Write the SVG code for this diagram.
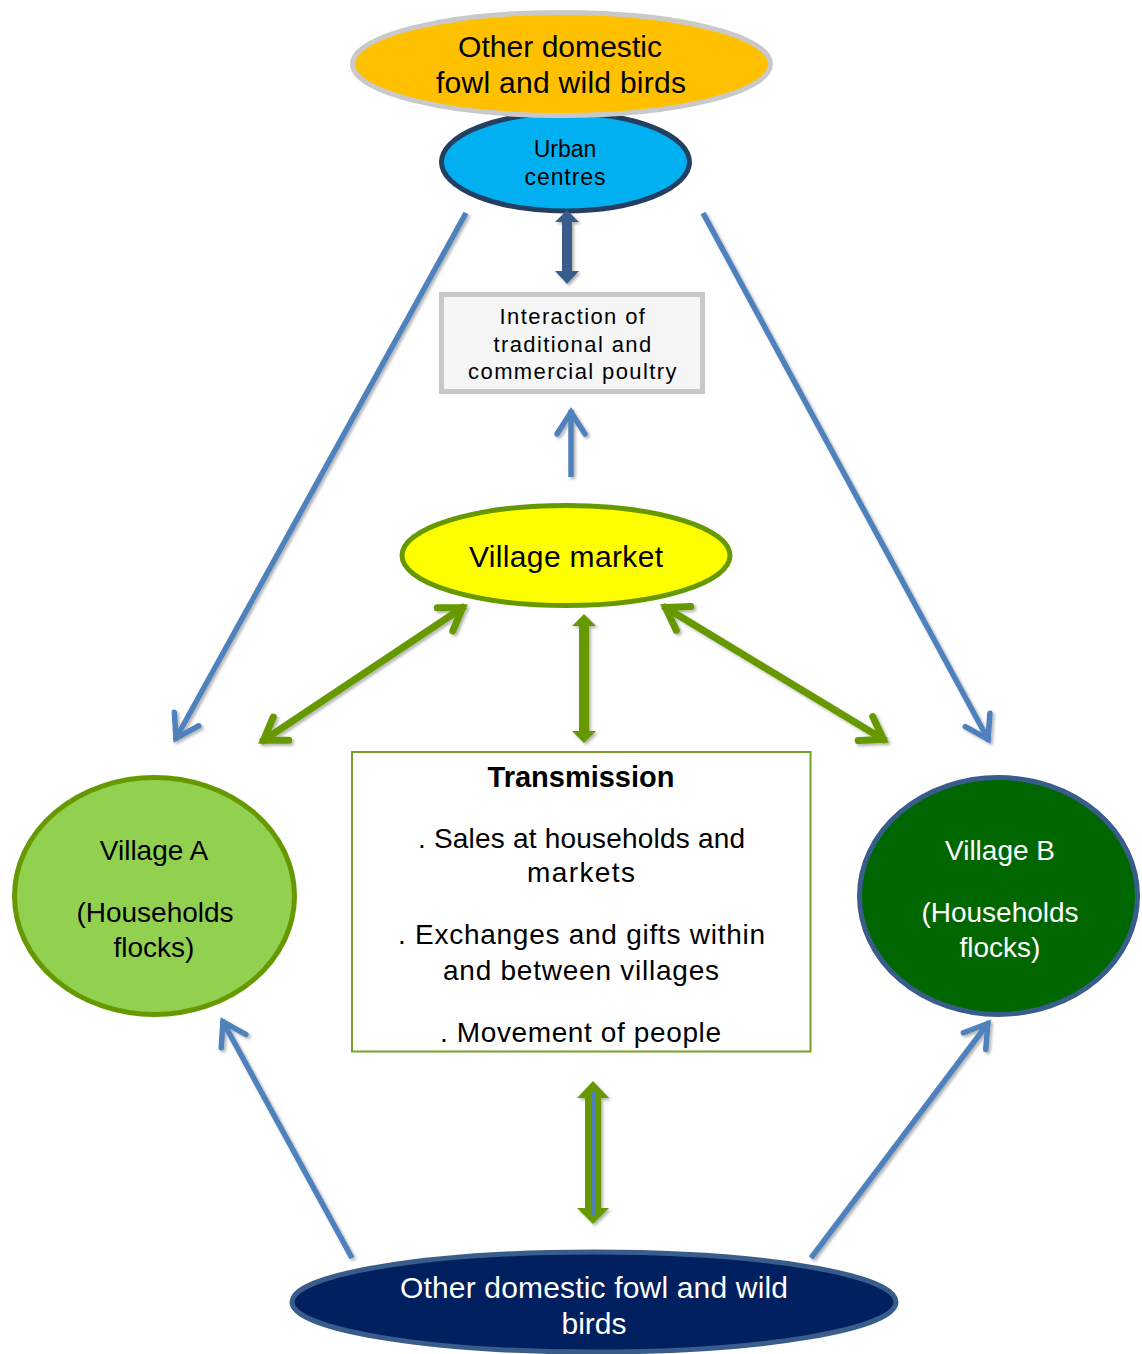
<svg xmlns="http://www.w3.org/2000/svg" width="1142" height="1354" viewBox="0 0 1142 1354">
  <style>
    text { font-family: "Liberation Sans", Arial, sans-serif; text-anchor: middle; }
    .dark { fill: #000000; }
    .light { fill: #FFFFFF; }
    .t28 { font-size: 28px; }
    .t30 { font-size: 30px; }
    .node { stroke-width: 5; }
    .blue-line { fill: none; stroke: #4F81BD; stroke-width: 5.5; }
    .green-line { fill: none; stroke: #669900; stroke-width: 7; }
  </style>
  <defs>
    <filter id="shadow" x="-20%" y="-20%" width="140%" height="140%">
      <feDropShadow dx="2" dy="2" stdDeviation="1.5" flood-color="#000000" flood-opacity="0.3"/>
    </filter>
    <marker id="chevBlue" markerUnits="userSpaceOnUse" viewBox="-34 -22 44 44" refX="0" refY="0" markerWidth="44" markerHeight="44" orient="auto-start-reverse">
      <path d="M-24,-14 L-2,0 L-24,14" fill="none" stroke="#4F81BD" stroke-width="5.5" stroke-linecap="round" stroke-linejoin="miter"/>
    </marker>
    <marker id="chevGreen" markerUnits="userSpaceOnUse" viewBox="-34 -22 44 44" refX="0" refY="0" markerWidth="44" markerHeight="44" orient="auto-start-reverse">
      <path d="M-24,-14 L-3,0 L-24,14" fill="none" stroke="#669900" stroke-width="7" stroke-linecap="round" stroke-linejoin="miter"/>
    </marker>
  </defs>

  <rect x="0" y="0" width="1142" height="1354" fill="#FFFFFF"/>

  <!-- nodes -->
  <g id="urban-centres">
    <ellipse cx="565.5" cy="162" rx="124" ry="49" fill="#00B0F0" stroke="#243F60" class="node"/>
    <text class="dark" x="565" y="157" font-size="23">Urban</text>
    <text class="dark" x="565" y="185" font-size="23" textLength="81">centres</text>
  </g>

  <g id="birds-top">
    <ellipse cx="561.5" cy="64" rx="209" ry="51.5" fill="#FFC000" stroke="#C9C9C9" class="node"/>
    <text class="dark t30" x="560" y="57" textLength="204">Other domestic</text>
    <text class="dark t30" x="561" y="93" textLength="250">fowl and wild birds</text>
  </g>

  <g id="interaction">
    <rect x="441.5" y="294.5" width="261" height="97" fill="#F5F5F5" stroke="#C8C8C8" stroke-width="5"/>
    <text class="dark" x="573" y="324" font-size="22" letter-spacing="1.4">Interaction of</text>
    <text class="dark" x="573" y="352" font-size="22" letter-spacing="1.4">traditional and</text>
    <text class="dark" x="573" y="379" font-size="22" letter-spacing="1.4">commercial poultry</text>
  </g>

  <g id="village-market">
    <ellipse cx="566" cy="555.5" rx="164" ry="50" fill="#FFFF00" stroke="#669900" class="node"/>
    <text class="dark" x="566" y="567" font-size="30" textLength="194">Village market</text>
  </g>

  <g id="village-a">
    <ellipse cx="154.5" cy="896" rx="140" ry="118.5" fill="#92D050" stroke="#669900" class="node"/>
    <text class="dark t28" x="154" y="860">Village A</text>
    <text class="dark t28" x="155" y="922">(Households</text>
    <text class="dark t28" x="154" y="957">flocks)</text>
  </g>

  <g id="village-b">
    <ellipse cx="998.5" cy="896" rx="139" ry="118.5" fill="#006600" stroke="#385D8A" class="node"/>
    <text class="light t28" x="1000" y="860">Village B</text>
    <text class="light t28" x="1000" y="922">(Households</text>
    <text class="light t28" x="1000" y="957">flocks)</text>
  </g>

  <g id="transmission">
    <rect x="352" y="752" width="458.5" height="299.5" fill="#FFFFFF" stroke="#76A12A" stroke-width="2"/>
    <text class="dark" x="581" y="787" font-size="29" font-weight="bold">Transmission</text>
    <text class="dark t28" x="581.5" y="848" textLength="327">. Sales at households and</text>
    <text class="dark t28" x="581" y="882" textLength="108">markets</text>
    <text class="dark t28" x="581.5" y="944" textLength="367">. Exchanges and gifts within</text>
    <text class="dark t28" x="581" y="980" textLength="276">and between villages</text>
    <text class="dark t28" x="580.5" y="1042" textLength="281">. Movement of people</text>
  </g>

  <g id="birds-bottom">
    <ellipse cx="594" cy="1302" rx="302" ry="50" fill="#002060" stroke="#385D8A" class="node"/>
    <text class="light t30" x="594" y="1298" textLength="388">Other domestic fowl and wild</text>
    <text class="light t30" x="594" y="1334">birds</text>
  </g>

  <!-- connectors -->
  <g id="connectors" filter="url(#shadow)">
    <!-- urban centres <-> interaction -->
    <polygon points="567,210 579,222 572,222 572,271 579,271 567,284 555,271 562,271 562,222 555,222" fill="#385D8A"/>
    <!-- village market -> interaction -->
    <path class="blue-line" d="M571,477 L571,410" marker-end="url(#chevBlue)"/>
    <!-- urban centres -> villages -->
    <path class="blue-line" d="M466,213 L175,740" marker-end="url(#chevBlue)"/>
    <path class="blue-line" d="M703,213 L989,741" marker-end="url(#chevBlue)"/>
    <!-- village market <-> villages -->
    <path class="green-line" d="M465,606 L261,742" marker-start="url(#chevGreen)" marker-end="url(#chevGreen)"/>
    <path class="green-line" d="M663,606 L886,741" marker-start="url(#chevGreen)" marker-end="url(#chevGreen)"/>
    <!-- village market <-> transmission -->
    <polygon points="584,614 596,626 589,626 589,731 596,731 584,743 572,731 579,731 579,626 572,626" fill="#669900"/>
    <!-- transmission <-> bottom birds -->
    <polygon points="593,1081 609,1098 601,1098 601,1208 609,1208 593,1224 577,1208 585,1208 585,1098 577,1098" fill="#669900"/>
    <line x1="593" y1="1092" x2="593" y2="1215" stroke="#4F81BD" stroke-width="4"/>
    <!-- bottom birds -> villages -->
    <path class="blue-line" d="M352,1258 L222,1020" marker-end="url(#chevBlue)"/>
    <path class="blue-line" d="M811,1258 L989,1022" marker-end="url(#chevBlue)"/>
  </g>
</svg>
